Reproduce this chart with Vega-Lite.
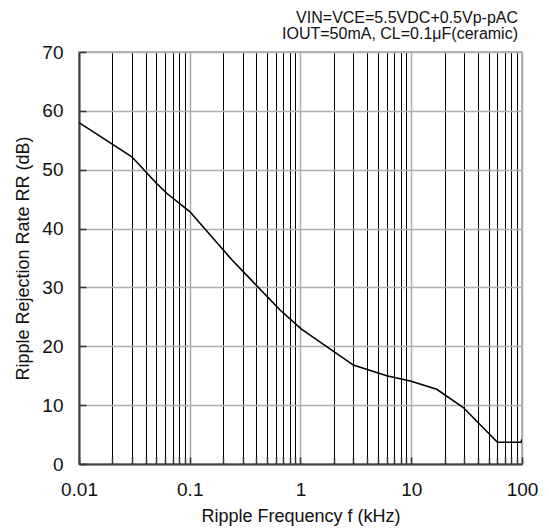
{
  "$schema": "https://vega.github.io/schema/vega-lite/v6.json",
  "autosize": "none",
  "padding": {"left": 79, "top": 52, "right": 27, "bottom": 65},
  "width": 443,
  "height": 412,
  "config": {
    "font": "Liberation Sans",
    "view": {"stroke": "#9a9a9a", "strokeWidth": 1.5},
    "background": "white"
  },
  "title": {
    "text": ["VIN=VCE=5.5VDC+0.5Vp-pAC", "IOUT=50mA, CL=0.1μF(ceramic)"],
    "anchor": "end",
    "frame": "group",
    "font": "Liberation Sans",
    "fontSize": 16,
    "fontWeight": "normal",
    "color": "#111",
    "lineHeight": 16,
    "offset": 1,
    "dx": -4
  },
  "data": {
    "values": [
      {"f": 0.01, "rr": 58.0},
      {"f": 0.03, "rr": 52.2},
      {"f": 0.05, "rr": 47.7},
      {"f": 0.062, "rr": 46.0},
      {"f": 0.1, "rr": 42.9},
      {"f": 0.24, "rr": 34.7},
      {"f": 0.65, "rr": 26.2},
      {"f": 1.02, "rr": 22.9},
      {"f": 3.0, "rr": 16.8},
      {"f": 6.0, "rr": 15.0},
      {"f": 9.8, "rr": 14.1},
      {"f": 17.0, "rr": 12.7},
      {"f": 29.5, "rr": 9.6},
      {"f": 60.0, "rr": 3.7},
      {"f": 98.0, "rr": 3.7},
      {"f": 100.0, "rr": 4.2}
    ]
  },
  "mark": {"type": "line", "color": "#000000", "strokeWidth": 1.6, "clip": true},
  "encoding": {
    "x": {
      "field": "f",
      "type": "quantitative",
      "scale": {"type": "log", "domain": [0.01, 100], "nice": false},
      "axis": {
        "title": "Ripple Frequency f (kHz)",
        "titleFont": "Liberation Sans",
        "titleFontSize": 18,
        "titleFontWeight": "normal",
        "titleColor": "#111",
        "titlePadding": 8,
        "values": [0.01, 0.02, 0.03, 0.04, 0.05, 0.06, 0.07, 0.08, 0.09, 0.1, 0.2, 0.3, 0.4, 0.5, 0.6, 0.7, 0.8, 0.9, 1, 2, 3, 4, 5, 6, 7, 8, 9, 10, 20, 30, 40, 50, 60, 70, 80, 90, 100],
        "format": "~g",
        "labelExpr": "abs(log(datum.value)/LN10 - round(log(datum.value)/LN10)) < 0.01 ? datum.label : ''",
        "labelOverlap": false,
        "labelFlush": false,
        "labelFont": "Liberation Sans",
        "labelFontSize": 19,
        "labelColor": "#111",
        "labelPadding": 23,
        "grid": true,
        "gridColor": {"condition": {"test": "abs(log(datum.value)/LN10 - round(log(datum.value)/LN10)) < 0.01", "value": "#ababab"}, "value": "#000000"},
        "gridWidth": {"condition": {"test": "abs(log(datum.value)/LN10 - round(log(datum.value)/LN10)) < 0.01", "value": 1.5}, "value": 1},
        "ticks": true,
        "tickSize": -7,
        "tickColor": "#333333",
        "tickWidth": 1.5,
        "domainColor": "#404040",
        "domainWidth": 2
      }
    },
    "y": {
      "field": "rr",
      "type": "quantitative",
      "scale": {"domain": [0, 70], "nice": false, "zero": true},
      "axis": {
        "title": "Ripple Rejection Rate RR (dB)",
        "titleFont": "Liberation Sans",
        "titleFontSize": 18,
        "titleFontWeight": "normal",
        "titleColor": "#111",
        "titlePadding": 9,
        "values": [0, 10, 20, 30, 40, 50, 60, 70],
        "labelFont": "Liberation Sans",
        "labelFontSize": 19,
        "labelColor": "#111",
        "labelPadding": 23,
        "grid": true,
        "gridColor": "#b0b0b0",
        "gridWidth": 1.5,
        "ticks": true,
        "tickSize": -7,
        "tickColor": "#333333",
        "tickWidth": 1.5,
        "domainColor": "#404040",
        "domainWidth": 2
      }
    }
  }
}
